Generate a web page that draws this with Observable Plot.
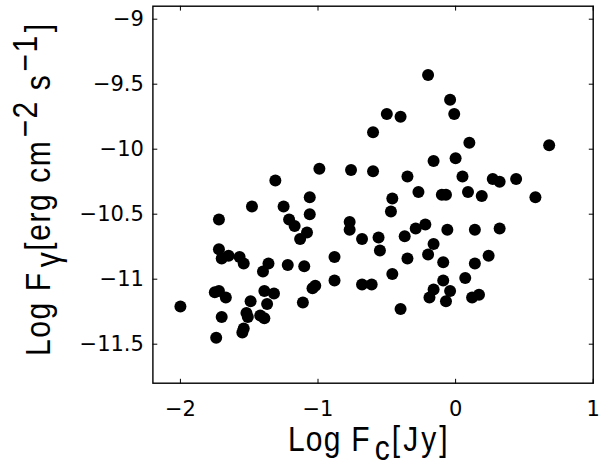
<!DOCTYPE html>
<html><head><meta charset="utf-8">
<script src="https://cdn.jsdelivr.net/npm/d3@7"></script>
<script src="https://cdn.jsdelivr.net/npm/@observablehq/plot@0.6"></script>
<style>body{margin:0;background:#fff}</style>
</head><body><div id="chart"></div>
<script>
const logFc = [-2.00,-1.74,-1.75,-1.72,-1.67,-1.72,-1.72,-1.70,-1.65,-1.70,
  -1.57,-1.54,-1.54,-1.55,-1.52,-1.51,-1.49,-1.48,-1.42,-1.39,
  -1.39,-1.32,-1.37,-1.40,-1.36,-1.31,-1.25,-1.21,-1.17,-1.22,
  -1.10,-1.11,-1.13,-1.08,-1.06,-1.06,-1.04,-1.02,-0.99,-0.88,
  -0.88,-0.76,-0.77,-0.77,-0.68,-0.68,-0.61,-0.60,-0.60,-0.56,
  -0.55,-0.50,-0.40,-0.46,-0.47,-0.46,-0.40,-0.37,-0.35,-0.35,
  -0.29,-0.22,-0.27,-0.20,-0.16,-0.16,-0.20,-0.16,-0.19,-0.10,
  -0.07,-0.04,-0.01,0.00,0.05,0.09,0.10,-0.06,-0.09,-0.09,
  -0.04,-0.07,0.07,0.14,0.14,0.24,0.12,0.17,0.19,0.27,
  0.32,0.44,0.32,0.58,0.68];
const logFgamma = [-11.21,-11.45,-11.10,-11.09,-11.14,-10.54,-10.77,-10.84,-10.82,-11.29,
  -10.83,-10.88,-11.38,-11.41,-11.26,-11.29,-11.17,-10.44,-11.28,-11.30,
  -11.09,-11.11,-11.19,-10.94,-10.88,-10.24,-10.44,-10.54,-10.59,-10.89,
  -10.90,-11.18,-10.69,-10.64,-10.50,-10.37,-11.07,-11.05,-10.15,-10.83,
  -11.01,-10.16,-10.56,-10.62,-10.69,-11.04,-11.04,-9.87,-10.17,-10.68,
  -10.78,-9.73,-9.75,-10.38,-10.48,-10.96,-11.23,-10.67,-10.21,-10.84,
  -10.61,-10.58,-10.33,-9.43,-10.09,-10.73,-10.81,-11.08,-11.14,-10.35,
  -10.35,-9.62,-9.73,-10.07,-10.21,-10.33,-9.95,-10.62,-10.87,-11.01,
  -11.09,-11.17,-10.99,-10.62,-10.88,-10.82,-11.14,-11.12,-10.36,-10.23,
  -10.25,-10.23,-10.61,-10.37,-9.97];
const xTicks = [-2, -1, 0, 1];
const yTicks = [-9, -9.5, -10, -10.5, -11, -11.5];
const xDomain = [-2.2, 1];
const yDomain = [-11.8, -8.9];

const points = logFc.map((x, i) => ({x, y: logFgamma[i]}));
const fmt = d => d < 0 ? "\u2212" + Math.abs(d) : String(d);
const tickShape = {draw(ctx, l) { ctx.moveTo(0, 0); ctx.lineTo(0, -l); }};
const inTicks = (data, opts) => Plot.vector(data, {anchor: "start", length: 4, shape: tickShape, stroke: "black", strokeWidth: 1, ...opts});
const tickFont = "'DejaVu Sans', sans-serif";

const plot = Plot.plot({
  width: 600, height: 468,
  marginLeft: 152.4, marginRight: 7.3, marginTop: 5.7, marginBottom: 85.3,
  style: {fontFamily: "'Liberation Sans', Arial, sans-serif", background: "white", overflow: "visible"},
  x: {domain: xDomain},
  y: {domain: yDomain},
  marks: [
    Plot.dot(points, {x: "x", y: "y", r: 6, fill: "black", stroke: null}),
    inTicks(xTicks, {x: d => d, frameAnchor: "bottom", rotate: 0}),
    inTicks(xTicks, {x: d => d, frameAnchor: "top", rotate: 180}),
    inTicks(yTicks, {y: d => d, frameAnchor: "left", rotate: 90}),
    inTicks(yTicks, {y: d => d, frameAnchor: "right", rotate: -90}),
    Plot.axisX({ticks: xTicks, tickFormat: fmt, tickSize: 0, tickPadding: 18, fontSize: 21, fontFamily: tickFont, label: null}),
    Plot.axisY({ticks: yTicks, tickFormat: fmt, tickSize: 0, tickPadding: 9, fontSize: 21, fontFamily: tickFont, label: null}),
    Plot.frame({stroke: "black", strokeWidth: 1.4})
  ]
});
document.getElementById("chart").appendChild(plot);

const svg = d3.select(plot);
const FS = 30;
const xl = svg.append("text")
  .attr("transform", "translate(288,451) scale(1,1.16)")
  .attr("text-anchor", "start")
  .attr("font-size", FS).attr("fill", "black").attr("letter-spacing", 1.2);
xl.append("tspan").text("Log F");
xl.append("tspan").attr("dx", 4).attr("dy", 8).text("c");
xl.append("tspan").attr("dx", 1).attr("dy", -8).attr("letter-spacing", 3).text("[Jy]");

const yl = svg.append("text")
  .attr("transform", "translate(50,356) rotate(-90) scale(1,1.16)")
  .attr("text-anchor", "start")
  .attr("font-size", FS).attr("fill", "black").attr("letter-spacing", 1.6);
yl.append("tspan").text("Log F");
yl.append("tspan").attr("dx", 4).attr("dy", 9).text("γ");
yl.append("tspan").attr("dy", -9).text("[erg cm");
yl.append("tspan").attr("dx", 2).attr("dy", -11).text("−2");
yl.append("tspan").attr("dy", 11).text(" s");
yl.append("tspan").attr("dx", 2).attr("dy", -11).text("−1");
yl.append("tspan").attr("dx", 2).attr("dy", 11).text("]");
</script>
</body></html>
